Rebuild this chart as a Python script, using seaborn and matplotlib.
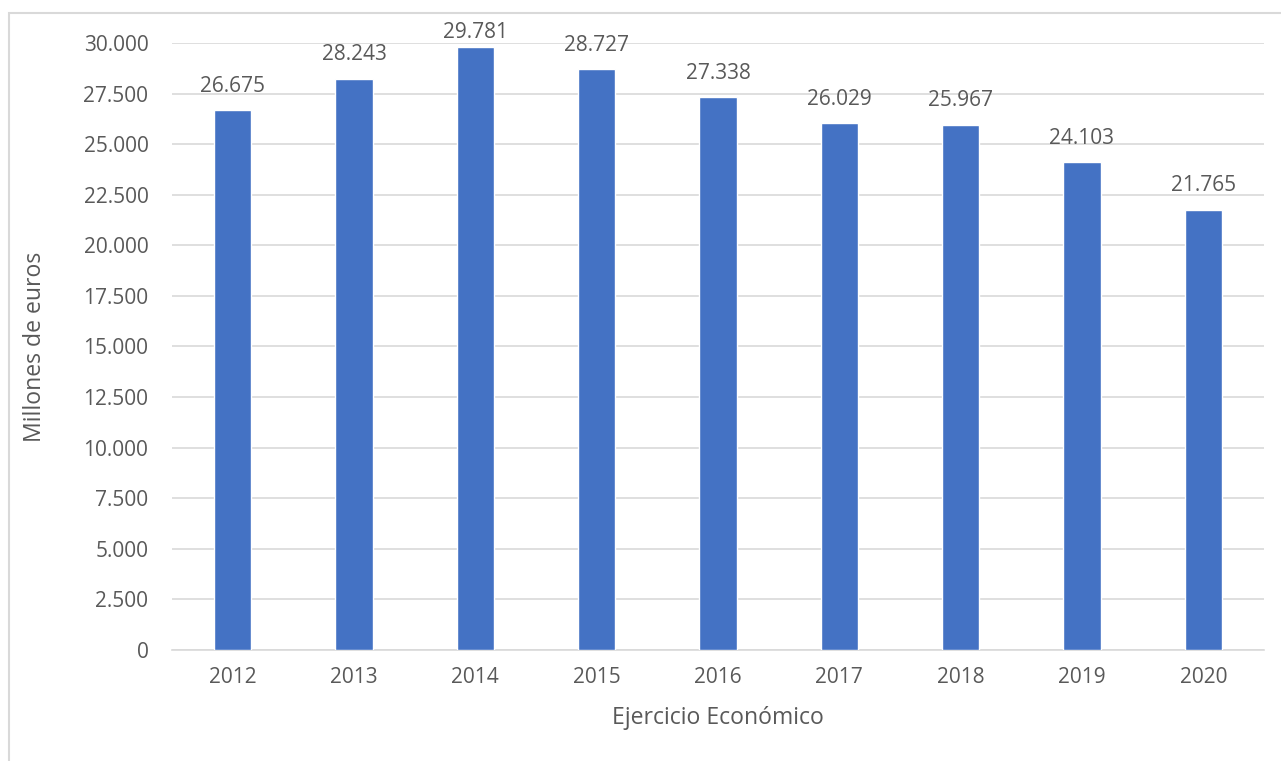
import matplotlib
matplotlib.use("Agg")
import matplotlib.pyplot as plt
import seaborn as sns
import pandas as pd
from matplotlib.patches import Rectangle
from matplotlib.ticker import FuncFormatter

years = ["2012", "2013", "2014", "2015", "2016", "2017", "2018", "2019", "2020"]
values = [26675, 28243, 29781, 28727, 27338, 26029, 25967, 24103, 21765]
y_label = "Millones de euros"
x_label = "Ejercicio Económico"

sns.set_theme(style="white")
plt.rcParams["font.family"] = ["Open Sans", "DejaVu Sans"]

text_color = "#595959"
grid_color = "#D9D9D9"
bar_color = "#4472C4"

df = pd.DataFrame({"year": years, "value": values})

W, H = 1281, 761
L, R, T, B = 172, 1264, 43, 650
fig = plt.figure(figsize=(W / 100, H / 100), dpi=100)
ax = fig.add_axes([L / W, 1 - B / H, (R - L) / W, (B - T) / H])

sns.barplot(data=df, x="year", y="value", color=bar_color, width=0.31,
            saturation=1, ax=ax, zorder=3)

ax.set_ylim(0, 30000)
ax.set_yticks(range(0, 30001, 2500))

def fmt(v, pos=None):
    return f"{int(round(v)):,}".replace(",", ".")

ax.yaxis.set_major_formatter(FuncFormatter(fmt))
ax.grid(axis="y", color=grid_color, linewidth=1.2, zorder=0)
ax.set_axisbelow(True)
for s in ["top", "right", "left"]:
    ax.spines[s].set_visible(False)
ax.spines["bottom"].set_color(grid_color)
ax.spines["bottom"].set_linewidth(1.2)

ax.tick_params(axis="both", length=0, labelsize=15, colors=text_color)
ax.tick_params(axis="y", pad=17)
ax.tick_params(axis="x", pad=12)

anns = []
for i, v in enumerate(values):
    a = ax.annotate(fmt(v), (i, v), xytext=(0, 9.5), textcoords="offset points",
                    ha="center", va="bottom", fontsize=15, color=text_color)
    anns.append(a)

ax.set_xlabel(x_label, fontsize=16.6, color=text_color)
ax.set_ylabel(y_label, fontsize=16.6, color=text_color)
ax.xaxis.set_label_coords(0.5, (B - 706) / (B - T), transform=ax.transAxes)
ax.yaxis.set_label_coords((47 - L) / (R - L), 0.5, transform=ax.transAxes)

border = Rectangle((9 / W, -0.1), 1.2, 1 - 13 / H + 0.1, transform=fig.transFigure,
                   fill=False, edgecolor=grid_color, linewidth=1.5)
fig.patches.append(border)

# keep data labels inside the chart area, like Excel does
fig.canvas.draw()
renderer = fig.canvas.get_renderer()
top_limit = H - 22
for a in anns:
    bb = a.get_window_extent(renderer)
    if bb.y1 > top_limit:
        dx, dy = a.xyann
        a.xyann = (dx, dy - (bb.y1 - top_limit) * 72 / fig.dpi)

fig.savefig("out.png", dpi=100)
